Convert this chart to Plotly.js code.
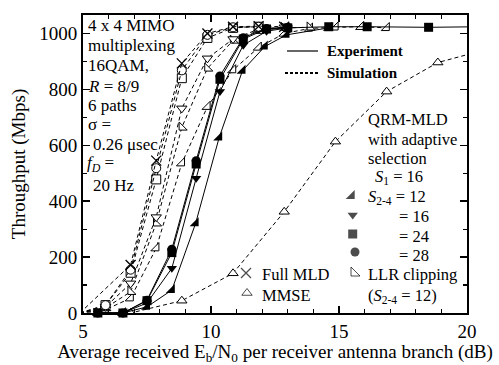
<!DOCTYPE html>
<html>
<head>
<meta charset="utf-8">
<script src="https://cdn.plot.ly/plotly-3.0.1.min.js"></script>
<style>html,body{margin:0;padding:0;background:#fff}#chart{width:499px;height:365px}</style>
</head>
<body>
<div id="chart"></div>
<script>
// ---- Data ----
// Experiment (solid lines, filled markers)
const expS12X = [5.58, 6.56, 7.5, 8.47, 9.4, 10.32, 11.23, 12.1, 12.95, 14.6];
const expS12Y = [0, 0, 22, 82, 321, 628, 867, 953, 995, 1020];
const expS16X = [5.58, 6.56, 7.5, 8.47, 9.42, 10.35, 11.26, 12.17, 13.0];
const expS16Y = [0, 0, 36, 160, 482, 792, 958, 1008, 1020];
const expS24X = [5.58, 6.56, 7.5, 8.47, 9.42, 10.35, 11.26, 12.17, 13.0, 14.6, 16.1, 18.5, 20.5];
const expS24Y = [0, 0, 44, 216, 533, 836, 980, 1016, 1020, 1024, 1024, 1022, 1024];
const expS28X = [5.58, 6.56, 7.5, 8.47, 9.42, 10.35, 11.26, 12.17, 13.0];
const expS28Y = [0, 0, 46, 228, 545, 848, 985, 1018, 1022];

// Simulation (dashed lines, open markers)
const simFullX = [4.88, 6.86, 7.86, 8.86, 9.86, 10.86, 11.86, 12.86];
const simFullY = [0, 172, 545, 893, 1000, 1024, 1026, 1024];
const simS28X = [4.88, 5.88, 6.86, 7.86, 8.86, 9.86, 10.86, 11.86];
const simS28Y = [0, 28, 155, 518, 868, 995, 1022, 1024];
const simS24X = [4.88, 5.88, 6.86, 7.86, 8.86, 9.86, 10.86, 11.86];
const simS24Y = [0, 28, 144, 478, 840, 984, 1020, 1024];
const simS16X = [4.88, 5.88, 6.86, 7.86, 8.86, 9.86, 10.86, 11.86, 12.86];
const simS16Y = [0, 22, 106, 343, 732, 911, 980, 1015, 1022];
const simLLRX = [4.88, 5.88, 6.86, 7.86, 8.86, 9.86, 10.86, 11.86, 12.86, 13.86];
const simLLRY = [0, 18, 76, 321, 664, 875, 975, 1010, 1020, 1022];
const simS12X = [4.88, 5.88, 6.86, 7.86, 8.86, 9.86, 10.86, 11.86, 12.86, 13.86, 14.86, 15.86, 16.86];
const simS12Y = [0, 12, 53, 232, 536, 738, 869, 950, 1000, 1018, 1022, 1024, 1020];
const mmseX = [4.88, 6.86, 8.86, 10.86, 12.86, 14.86, 16.86, 18.86, 20.86];
const mmseY = [0, 0, 44, 142, 362, 613, 792, 896, 945];

// Tick values
const xTicks = [5, 10, 15, 20];
const yTicks = [0, 200, 400, 600, 800, 1000];

// ---- Styling helpers ----
const FONT = 'Liberation Serif, Times New Roman, serif';
const DASH = '4px,3px';

function sim(x, y, symbol, clip) {
  const openStyle = symbol === 'x-thin-open';
  return {
    x: x, y: y, type: 'scatter', mode: 'lines+markers', xaxis: 'x', yaxis: 'y',
    cliponaxis: clip, showlegend: false, hoverinfo: 'skip',
    line: {color: 'black', width: 1, dash: DASH},
    marker: {symbol: symbol, size: openStyle ? 10 : 9,
             color: openStyle ? 'black' : 'white',
             line: {color: 'black', width: openStyle ? 1.3 : 1}}
  };
}
function exp(x, y, symbol, size) {
  return {
    x: x, y: y, type: 'scatter', mode: 'lines+markers', xaxis: 'x', yaxis: 'y',
    cliponaxis: false, showlegend: false, hoverinfo: 'skip',
    line: {color: 'black', width: 1},
    marker: {symbol: symbol, size: size, color: 'black', line: {width: 0}}
  };
}

const traces = [
  sim(mmseX, mmseY, 'triangle-up', true),
  sim(simS12X, simS12Y, 'triangle-se', true),
  sim(simLLRX, simLLRY, 'triangle-sw', true),
  sim(simS16X, simS16Y, 'triangle-down', true),
  sim(simS24X, simS24Y, 'square', true),
  sim(simS28X, simS28Y, 'circle', true),
  sim(simFullX, simFullY, 'x-thin-open', true),
  exp(expS12X, expS12Y, 'triangle-se', 10),
  exp(expS16X, expS16Y, 'triangle-down', 9),
  exp(expS28X, expS28Y, 'circle', 9),
  exp(expS24X, expS24Y, 'square', 9)
];

// Legend key glyphs (on a hidden overlay axis measured in page pixels)
const keyX = [351.7, 352.7, 352.7, 355, 246, 247, 354];
const keyY = [196, 215, 234, 252, 273, 293, 273];
const keySym = ['triangle-se', 'triangle-down', 'square', 'circle', 'x-thin-open', 'triangle-up-open', 'triangle-sw-open'];
traces.push({
  x: keyX, y: keyY, type: 'scatter', mode: 'markers', xaxis: 'x2', yaxis: 'y2',
  cliponaxis: false, showlegend: false, hoverinfo: 'skip',
  marker: {symbol: keySym, size: [10, 9, 9, 9, 10, 9, 10], color: 'black', line: {color: 'black', width: [0, 0, 0, 0, 1.3, 1, 1]}}
});

function txt(x, y, text, size, opts) {
  return Object.assign({
    x: x, y: y, xref: 'x2', yref: 'y2', text: text, showarrow: false,
    xanchor: 'left', yanchor: 'middle', borderpad: 0,
    font: {family: FONT, size: size || 17, color: 'black'}
  }, opts || {});
}

const R = 16.5;
const annotations = [
  txt(87, 25, '4 x 4 MIMO'),
  txt(87, 45, 'multiplexing'),
  txt(87, 65, '16QAM,'),
  txt(87, 86, '<i>R</i> = 8/9'),
  txt(87, 105, '6 paths'),
  txt(87, 124, 'σ ='),
  txt(92, 144, '0.26 μsec'),
  txt(86, 164, '<i>f</i><sub><i>D</i></sub> ='),
  txt(92, 185, '20 Hz'),
  txt(326, 51, '<b>Experiment</b>', 15),
  txt(326, 73, '<b>Simulation</b>', 15),
  txt(367, 119, 'QRM-MLD', R),
  txt(367, 139, 'with adaptive', R),
  txt(367, 158, 'selection', R),
  txt(374, 177, '<i>S</i><sub>1</sub> = 16', R),
  txt(367, 197, '<i>S</i><sub>2-4</sub> = 12', R),
  txt(398, 216, '= 16', R),
  txt(398, 236, '= 24', R),
  txt(398, 255, '= 28', R),
  txt(261, 274, 'Full MLD', R),
  txt(261, 295, 'MMSE', R),
  txt(367, 274, 'LLR clipping', R),
  txt(367, 296, '(<i>S</i><sub>2-4</sub> = 12)', R)
];

const shapes = [
  {type: 'line', xref: 'x2', yref: 'y2', x0: 287, x1: 318, y0: 51, y1: 51, line: {color: 'black', width: 1.2}},
  {type: 'line', xref: 'x2', yref: 'y2', x0: 285, x1: 318, y0: 73, y1: 73, line: {color: 'black', width: 2, dash: '3px,2px'}}
];

const axisCommon = {
  showgrid: false, zeroline: false, showline: true, linecolor: 'black', linewidth: 2,
  mirror: 'ticks', ticks: 'inside', ticklen: 7, tickwidth: 1.5, tickcolor: 'black',
  tickfont: {family: FONT, size: 19, color: 'black'}
};

const layout = {
  width: 499, height: 365,
  margin: {l: 83, r: 32, t: 15, b: 52, pad: 0},
  paper_bgcolor: 'white', plot_bgcolor: 'white',
  showlegend: false,
  font: {family: FONT, color: 'black'},
  xaxis: Object.assign({}, axisCommon, {
    range: [5, 20], tickmode: 'array', tickvals: xTicks, ticktext: xTicks.map(String),
    minor: {dtick: 1, tick0: 5, ticks: 'inside', ticklen: 4, tickwidth: 1.2, tickcolor: 'black'},
    title: {text: 'Average received E<sub>b</sub>/N<sub>0</sub> per receiver antenna branch (dB)',
            font: {family: FONT, size: 19, color: 'black'}, standoff: 6}
  }),
  yaxis: Object.assign({}, axisCommon, {
    range: [0, 1066], tickmode: 'array', tickvals: yTicks, ticktext: yTicks.map(String),
    minor: {dtick: 100, tick0: 0, ticks: 'inside', ticklen: 4, tickwidth: 1.2, tickcolor: 'black'},
    title: {text: 'Throughput (Mbps)', font: {family: FONT, size: 19, color: 'black'}, standoff: 9}
  }),
  xaxis2: {overlaying: 'x', anchor: 'y2', range: [83, 467], visible: false, fixedrange: true},
  yaxis2: {overlaying: 'y', anchor: 'x2', range: [313, 15], visible: false, fixedrange: true},
  annotations: annotations,
  shapes: shapes
};

Plotly.newPlot('chart', traces, layout, {staticPlot: true, displayModeBar: false});
</script>
</body>
</html>
